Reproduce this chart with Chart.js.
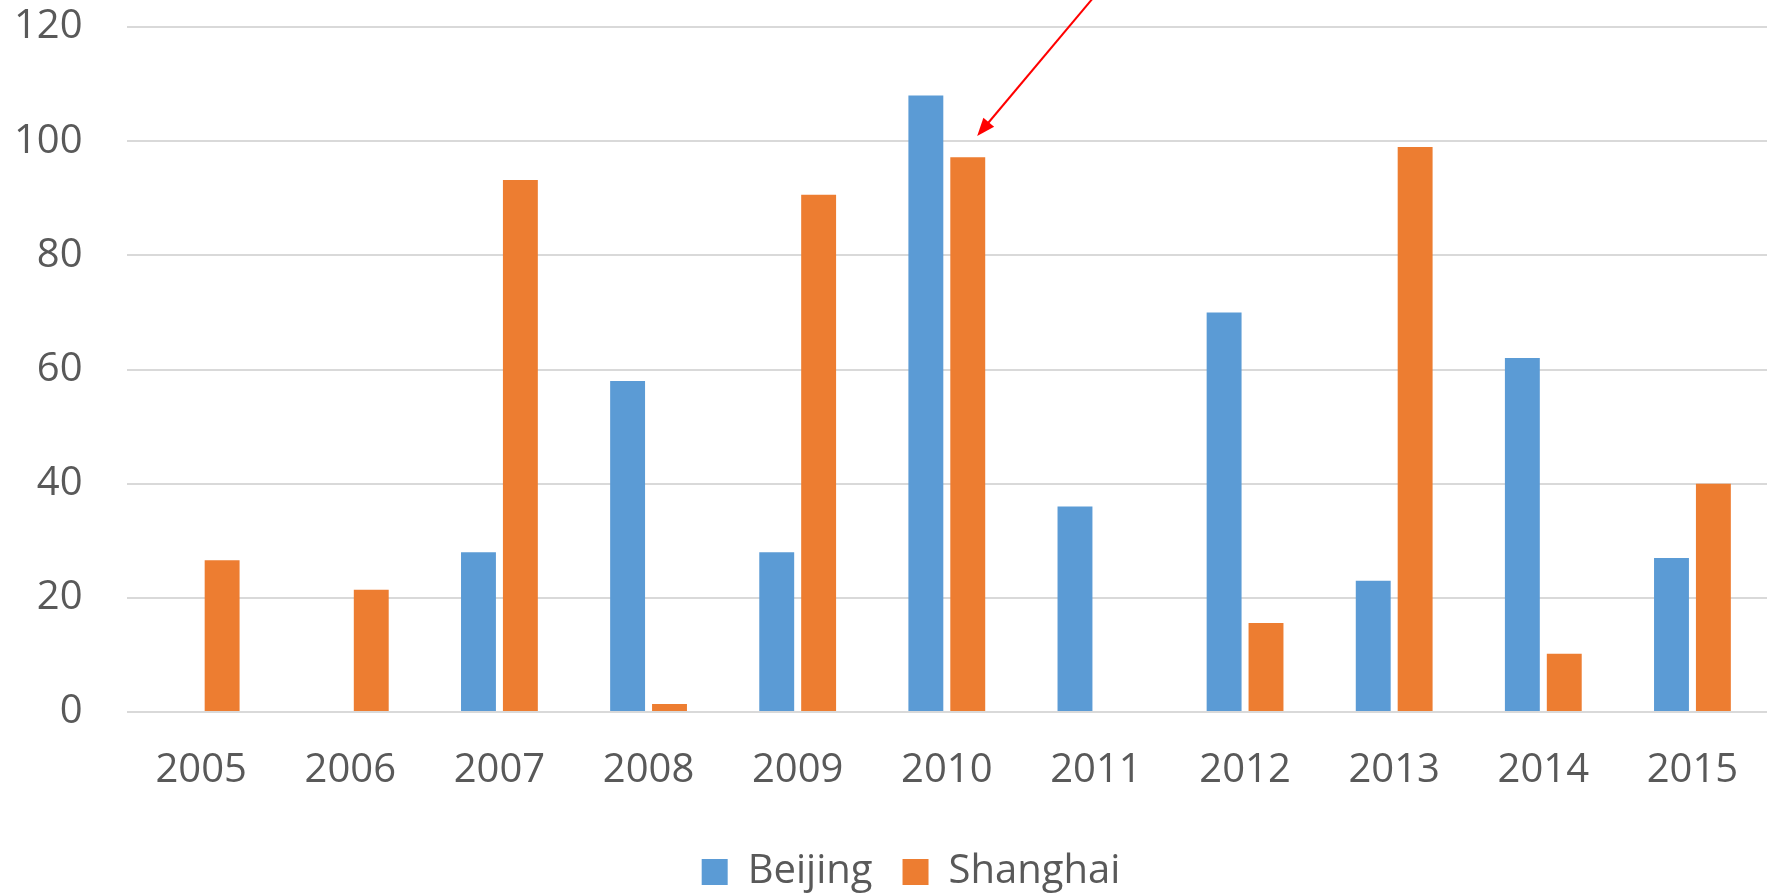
<!DOCTYPE html>
<html>
<head>
<meta charset="utf-8">
<script src="https://cdn.jsdelivr.net/npm/chart.js@4/dist/chart.umd.min.js"></script>
<style>
  html, body { margin: 0; padding: 0; background: #fff; }
  #wrap { width: 1781px; height: 893px; }
</style>
</head>
<body>
<div id="wrap"><canvas id="cityChart"></canvas></div>
<script>
const years = ['2005', '2006', '2007', '2008', '2009', '2010', '2011', '2012', '2013', '2014', '2015'];
const beijing = [0, 0, 28, 58, 28, 108, 36, 70, 23, 62, 27];
const shanghai = [26.6, 21.4, 93.2, 1.4, 90.6, 97.2, 0, 15.6, 99, 10.2, 40];
const yTicks = [0, 20, 40, 60, 80, 100, 120];

const textGray = '#595959';
const fontFamily = '"Open Sans", "Noto Sans", sans-serif';

// red pointer arrow aimed at the 2010 Shanghai bar
const arrowPlugin = {
    id: 'pointerArrow',
    afterDatasetsDraw(chart) {
        const bar = chart.getDatasetMeta(1).data[5];
        if (!bar) return;
        const ctx = chart.ctx;
        const yScale = chart.scales.y;
        const tipX = bar.x + bar.width * 0.27;
        const tipY = yScale.getPixelForValue(shanghai[5] + 3.7);
        const dx = 115, dy = -137;
        const len = Math.hypot(dx, dy);
        const ux = dx / len, uy = dy / len;
        const startX = tipX + ux * 400;
        const startY = tipY + uy * 400;
        const headLen = 18, headHalf = 7;

        ctx.save();
        ctx.strokeStyle = '#ff0000';
        ctx.fillStyle = '#ff0000';
        ctx.lineWidth = 2;
        ctx.beginPath();
        ctx.moveTo(startX, startY);
        ctx.lineTo(tipX + ux * headLen * 0.8, tipY + uy * headLen * 0.8);
        ctx.stroke();

        const bx = tipX + ux * headLen, by = tipY + uy * headLen;
        ctx.beginPath();
        ctx.moveTo(tipX, tipY);
        ctx.lineTo(bx - uy * headHalf, by + ux * headHalf);
        ctx.lineTo(bx + uy * headHalf, by - ux * headHalf);
        ctx.closePath();
        ctx.fill();
        ctx.restore();
    }
};

// nudge the legend a bit right so it sits under the plot area
const legendShift = {
    id: 'legendShift',
    afterLayout(chart) {
        if (!chart.legend) return;
        chart.legend.left += 22;
        chart.legend.right += 22;
    }
};

new Chart(document.getElementById('cityChart'), {
    type: 'bar',
    data: {
        labels: years,
        datasets: [
            {
                label: 'Beijing',
                data: beijing,
                backgroundColor: '#5B9BD5',
                categoryPercentage: 0.562,
                barPercentage: 0.833
            },
            {
                label: 'Shanghai',
                data: shanghai,
                backgroundColor: '#ED7D31',
                categoryPercentage: 0.562,
                barPercentage: 0.833
            }
        ]
    },
    options: {
        responsive: true,
        maintainAspectRatio: false,
        animation: false,
        layout: {
            padding: { left: 11, right: 14, top: 1, bottom: -9 }
        },
        scales: {
            x: {
                // invisible tick marks give the gap between axis and labels
                grid: {
                    color: 'rgba(0,0,0,0)',
                    drawTicks: true,
                    tickLength: 32,
                    tickColor: 'rgba(0,0,0,0)'
                },
                border: { display: false },
                ticks: {
                    color: textGray,
                    font: { family: fontFamily, size: 40 },
                    padding: 3
                },
                afterFit(axis) {
                    axis.height += 24;
                }
            },
            y: {
                min: 0,
                max: 120,
                afterBuildTicks(axis) {
                    axis.ticks = yTicks.map(v => ({ value: v }));
                },
                grid: {
                    color: '#d9d9d9',
                    lineWidth: 2,
                    drawTicks: true,
                    tickLength: 41,
                    tickColor: 'rgba(0,0,0,0)'
                },
                border: { display: false },
                ticks: {
                    color: textGray,
                    font: { family: fontFamily, size: 40 },
                    padding: 3
                }
            }
        },
        plugins: {
            legend: {
                position: 'bottom',
                labels: {
                    color: textGray,
                    font: { family: fontFamily, size: 40 },
                    boxWidth: 26,
                    boxHeight: 26,
                    padding: 30
                }
            },
            tooltip: { enabled: false }
        }
    },
    plugins: [arrowPlugin, legendShift]
});
</script>
</body>
</html>
